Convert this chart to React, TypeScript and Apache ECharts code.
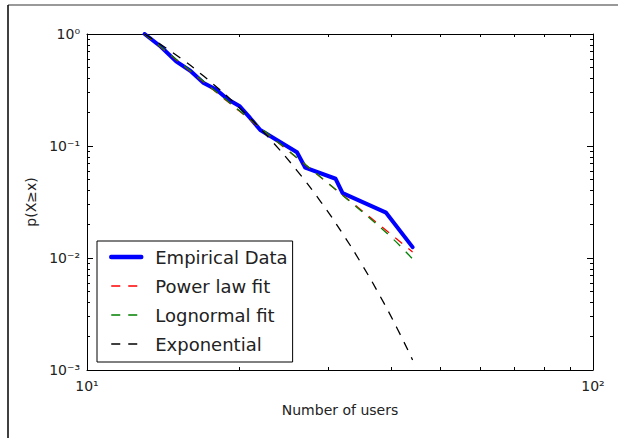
import React, { useEffect, useRef } from "react";
import * as echarts from "echarts";

// ---- data ----
const empiricalX = [13, 14, 15, 16, 17, 18, 19, 20, 21, 22, 26, 27, 31, 32, 39, 44];
const empiricalY = [1.0, 0.77, 0.57, 0.47, 0.365, 0.32, 0.26, 0.228, 0.178, 0.139, 0.088, 0.064, 0.051, 0.038, 0.0254, 0.0125];

const fitX = [13, 16, 20, 25, 30, 35, 40, 44];
const powerLawY = [1.0, 0.466, 0.205, 0.0904, 0.0462, 0.0263, 0.0161, 0.0113];
const lognormalY = [1.0, 0.47, 0.207, 0.091, 0.0462, 0.0258, 0.0152, 0.0098];

const expX = [13, 15, 17, 20, 23, 26, 29, 32, 35, 38, 41, 44];
const expY = [1.0, 0.649, 0.421, 0.22, 0.115, 0.0603, 0.0316, 0.0165, 0.00863, 0.00452, 0.00236, 0.00123];

const xTickValues = [10, 100];
const xTickLabels = ["10\u00B9", "10\u00B2"];
const yTickValues = [0.001, 0.01, 0.1, 1];
const yTickLabels = ["10\u207B\u00B3", "10\u207B\u00B2", "10\u207B\u00B9", "10\u2070"];

const seriesNames = ["Empirical Data", "Power law fit", "Lognormal fit", "Exponential"];
const seriesColors = ["#0000ff", "#ff0000", "#008000", "#000000"];

const FONT = "DejaVu Sans";

function zip(xs: number[], ys: number[]) {
  return xs.map((x, i) => [x, ys[i]]);
}

function labelFor(values: number[], labels: string[], v: number) {
  for (let i = 0; i < values.length; i++) {
    if (Math.abs(Math.log10(v) - Math.log10(values[i])) < 1e-6) return labels[i];
  }
  return "";
}

export default function App() {
  const ref = useRef<HTMLDivElement>(null);

  useEffect(() => {
    if (!ref.current) return;
    const chart = echarts.init(ref.current, undefined, { renderer: "svg" });

    const dash = [9, 8];
    const tickCommon = {
      axisLine: { show: true, lineStyle: { color: "#000", width: 1 } },
      axisTick: { show: true, inside: true, length: 6, lineStyle: { color: "#000", width: 1 } },
      minorTick: { show: true, splitNumber: 9, length: 3, lineStyle: { color: "#000", width: 1 } },
      splitLine: { show: false },
      minorSplitLine: { show: false },
    };
    const hiddenSymbol = { color: "rgba(0,0,0,0)", borderColor: "rgba(0,0,0,0)", borderWidth: 0, opacity: 0 };

    chart.setOption({
      animation: false,
      backgroundColor: "#fff",
      grid: { left: 87, top: 34, right: 25, bottom: 68, containLabel: false },
      graphic: [
        { type: "line", shape: { x1: 8, y1: 5, x2: 618, y2: 5 }, style: { stroke: "#777", lineWidth: 1.5 }, silent: true },
        { type: "line", shape: { x1: 8, y1: 5, x2: 8, y2: 438 }, style: { stroke: "#000", lineWidth: 1.5 }, silent: true },
      ],
      xAxis: [
        {
          type: "log",
          logBase: 10,
          min: 10,
          max: 100,
          interval: 1,
          position: "bottom",
          name: "Number of users",
          nameLocation: "middle",
          nameGap: 33,
          nameTextStyle: { fontFamily: FONT, fontSize: 14, color: "#222" },
          axisLabel: {
            show: true,
            margin: 9,
            fontFamily: FONT,
            fontSize: 14,
            color: "#222",
            formatter: (v: number) => labelFor(xTickValues, xTickLabels, v),
          },
          ...tickCommon,
        },
        {
          type: "log",
          logBase: 10,
          min: 10,
          max: 100,
          interval: 1,
          position: "top",
          axisLabel: { show: false },
          ...tickCommon,
        },
      ],
      yAxis: [
        {
          type: "log",
          logBase: 10,
          min: 0.001,
          max: 1,
          interval: 1,
          position: "left",
          name: "p(X\u2265x)",
          nameLocation: "middle",
          nameGap: 47,
          nameRotate: 90,
          nameTextStyle: { fontFamily: FONT, fontSize: 14, color: "#222" },
          axisLabel: {
            show: true,
            margin: 7,
            fontFamily: FONT,
            fontSize: 14,
            color: "#222",
            formatter: (v: number) => labelFor(yTickValues, yTickLabels, v),
          },
          ...tickCommon,
        },
        {
          type: "log",
          logBase: 10,
          min: 0.001,
          max: 1,
          interval: 1,
          position: "right",
          axisLabel: { show: false },
          ...tickCommon,
        },
      ],
      legend: {
        orient: "vertical",
        left: 97,
        top: 241,
        padding: [7, 5, 9, 12],
        itemGap: 11,
        itemWidth: 30,
        itemHeight: 18,
        borderColor: "#000",
        borderWidth: 1,
        borderRadius: 0,
        backgroundColor: "#fff",
        textStyle: { fontFamily: FONT, fontSize: 18, color: "#222", padding: [0, 0, 0, 9] },
        itemStyle: hiddenSymbol,
        data: seriesNames.map((name, i) => ({
          name,
          itemStyle: hiddenSymbol,
          lineStyle: {
            color: seriesColors[i],
            width: i === 0 ? 4.5 : 1.3,
            type: i === 0 ? "solid" : dash,
          },
        })),
      },
      series: [
        {
          name: seriesNames[0],
          type: "line",
          data: zip(empiricalX, empiricalY),
          symbol: "none",
          lineStyle: { color: seriesColors[0], width: 4, join: "round", cap: "round" },
          itemStyle: { color: seriesColors[0] },
          z: 2,
        },
        {
          name: seriesNames[1],
          type: "line",
          data: zip(fitX, powerLawY),
          symbol: "none",
          lineStyle: { color: seriesColors[1], width: 1.3, type: dash },
          itemStyle: { color: seriesColors[1] },
          z: 3,
        },
        {
          name: seriesNames[2],
          type: "line",
          data: zip(fitX, lognormalY),
          symbol: "none",
          smooth: true,
          lineStyle: { color: seriesColors[2], width: 1.3, type: dash },
          itemStyle: { color: seriesColors[2] },
          z: 4,
        },
        {
          name: seriesNames[3],
          type: "line",
          data: zip(expX, expY),
          symbol: "none",
          smooth: true,
          lineStyle: { color: seriesColors[3], width: 1.3, type: dash },
          itemStyle: { color: seriesColors[3] },
          z: 5,
        },
      ],
    });

    return () => chart.dispose();
  }, []);

  return (
    <div
      ref={ref}
      style={{ position: "fixed", left: 0, top: 0, width: 618, height: 438, background: "#fff" }}
    />
  );
}
